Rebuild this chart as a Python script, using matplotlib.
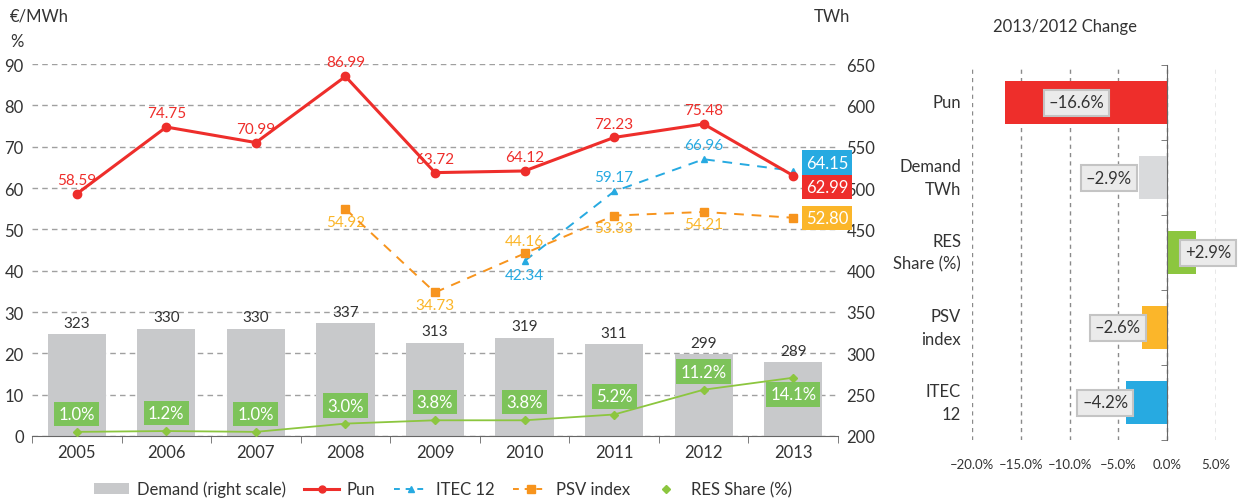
import matplotlib
matplotlib.use("Agg")
import matplotlib.pyplot as plt
from matplotlib.lines import Line2D
from matplotlib.patches import Patch
import matplotlib.transforms as mtrans
import numpy as np

plt.rcParams['font.family'] = ['Lato', 'DejaVu Sans']

years = ['2005', '2006', '2007', '2008', '2009', '2010', '2011', '2012', '2013']
demand = [323, 330, 330, 337, 313, 319, 311, 299, 289]
pun = [58.59, 74.75, 70.99, 86.99, 63.72, 64.12, 72.23, 75.48, 62.99]
itec_years = ['2010', '2011', '2012', '2013']
itec = [42.34, 59.17, 66.96, 64.15]
psv_years = ['2008', '2009', '2010', '2011', '2012', '2013']
psv = [54.92, 34.73, 44.16, 53.33, 54.21, 52.80]
res = [1.0, 1.2, 1.0, 3.0, 3.8, 3.8, 5.2, 11.2, 14.1]

chg_cats = ['Pun', 'Demand\nTWh', 'RES\nShare (%)', 'PSV\nindex', 'ITEC\n12']
chg_vals = [-16.6, -2.9, 2.9, -2.6, -4.2]

C_PUN = '#ee2e2b'
C_ITEC = '#27aae1'
C_PSV = '#f7941d'
C_PSVL = '#fbb62a'
C_RES = '#8cc63f'
C_RESBOX = '#7dc35a'
C_BAR = '#c8c9cb'
C_TXT = '#333333'
FS = 11

fig = plt.figure(figsize=(12.45, 5.02), dpi=100)

# ---------------- main chart ----------------
ax = fig.add_axes([32/1245, 1-437/502, (838-32)/1245, (437-65)/502])
ax2 = ax.twinx()
ax.set_zorder(ax2.get_zorder() + 1)
ax.patch.set_visible(False)

x = np.arange(len(years))
xi = [years.index(y) for y in itec_years]
xp = [years.index(y) for y in psv_years]

ax2.bar(x, demand, width=0.65, color=C_BAR, zorder=2)
ax2.set_ylim(200, 650)
ax2.set_yticks(np.arange(200, 651, 50))
ax2.grid(axis='y', linestyle=(0, (4, 3)), color='#a0a0a0', linewidth=1.0, zorder=0)
ax2.set_axisbelow(True)
for xx, d in zip(x, demand):
    ax2.annotate(f"{d}", (xx, d), xytext=(0, 3), textcoords='offset points',
                 ha='center', va='bottom', fontsize=FS, color=C_TXT)

ax.set_ylim(0, 90)
ax.set_xlim(-0.5, len(years) - 0.5)
ax.set_yticks(np.arange(0, 91, 10))

ax.plot(x, pun, color=C_PUN, lw=2.2, marker='o', ms=6, zorder=5)
ax.plot(xi, itec, color=C_ITEC, lw=1.4, ls=(0, (5, 4)), marker='^', ms=5, zorder=4)
ax.plot(xp, psv, color=C_PSV, lw=1.4, ls=(0, (5, 4)), marker='s', ms=6, zorder=4)
ax.plot(x, res, color=C_RES, lw=1.3, marker='D', ms=4, zorder=4)

# Pun labels
for i, v in enumerate(pun[:-1]):
    ax.annotate(f"{v:.2f}", (i, v), xytext=(0, 5), textcoords='offset points',
                ha='center', va='bottom', fontsize=FS, color=C_PUN)
# ITEC labels
itec_off = [(-1, 'top'), (1, 'bottom'), (1, 'bottom')]
for (xx, v), (s, va) in zip(zip(xi[:-1], itec[:-1]), itec_off):
    ax.annotate(f"{v:.2f}", (xx, v), xytext=(0, 5*s), textcoords='offset points',
                ha='center', va=va, fontsize=FS, color=C_ITEC)
# PSV labels
psv_off = [(-1, 'top'), (-1, 'top'), (1, 'bottom'), (-1, 'top'), (-1, 'top')]
for (xx, v), (s, va) in zip(zip(xp[:-1], psv[:-1]), psv_off):
    ax.annotate(f"{v:.2f}", (xx, v), xytext=(0, 4*s), textcoords='offset points',
                ha='center', va=va, fontsize=FS, color=C_PSVL)

# end boxes
def endbox(v, dy, fc):
    ax.annotate(f"{v:.2f}", (8, v), xytext=(9, dy), textcoords='offset points',
                ha='left', va='center', fontsize=FS + 1, color='white',
                bbox=dict(boxstyle='square,pad=0.25', fc=fc, ec='none'), zorder=6)

endbox(itec[-1], 6, C_ITEC)
endbox(pun[-1], -8, C_PUN)
endbox(psv[-1], 0, C_PSVL)

# RES boxes
for i, v in enumerate(res):
    dy = -12 if i == len(res) - 1 else 13
    ax.annotate(f"{v:.1f}%", (i, v), xytext=(0, dy), textcoords='offset points',
                ha='center', va='center', fontsize=FS + 1, color='white',
                bbox=dict(boxstyle='square,pad=0.25', fc=C_RESBOX, ec='none'), zorder=6)

ax.set_xticks(x)
ax.set_xticklabels(years)
ax.set_xticks(np.arange(-0.5, len(years)), minor=True)
ax.tick_params(axis='x', which='major', length=0, labelsize=FS + 1, colors=C_TXT, pad=6)
ax.tick_params(axis='x', which='minor', length=5, color='#666666')
ax.tick_params(axis='y', length=0, labelsize=FS + 1, colors=C_TXT, pad=6)
ax2.tick_params(axis='y', length=0, labelsize=FS + 1, colors=C_TXT, pad=6)
for a in (ax, ax2):
    for s in ('top', 'left', 'right'):
        a.spines[s].set_visible(False)
ax.spines['bottom'].set_color('#666666')
ax2.spines['bottom'].set_visible(False)

fig.text(10/1245, 1-17/502, "€/MWh", fontsize=FS + 1, color=C_TXT, va='center', ha='left')
fig.text(10/1245, 1-42/502, "%", fontsize=FS + 1, color=C_TXT, va='center', ha='left')
fig.text(850/1245, 1-17/502, "TWh", fontsize=FS + 1, color=C_TXT, va='center', ha='right')

# legend
handles = [
    Patch(facecolor=C_BAR, edgecolor='none'),
    Line2D([], [], color=C_PUN, lw=2.2, marker='o', ms=5),
    Line2D([], [], color=C_ITEC, lw=1.4, ls=(0, (3, 3)), marker='^', ms=5),
    Line2D([], [], color=C_PSV, lw=1.4, ls=(0, (3, 3)), marker='s', ms=6),
    Line2D([], [], color=C_RES, lw=0, marker='D', ms=4),
]
labels = ['Demand (right scale)', 'Pun', 'ITEC 12', 'PSV index', 'RES Share (%)']
leg = fig.legend(handles, labels, loc='center', bbox_to_anchor=(443/1245, 1-490/502),
                 ncol=5, frameon=False, fontsize=FS + 1, handlelength=2.1,
                 handleheight=0.6, columnspacing=1.1, handletextpad=0.45)
for t in leg.get_texts():
    t.set_color(C_TXT)

# ---------------- change panel ----------------
axc = fig.add_axes([972/1245, 1-441/502, (1216-972)/1245, (441-66)/502])
yc = np.arange(len(chg_cats))
cols = [C_PUN, '#d9dadc', C_RES, C_PSVL, C_ITEC]
axc.barh(yc, chg_vals, height=0.57, color=cols, zorder=2)
axc.set_xlim(-20, 5)
axc.set_ylim(len(chg_cats) - 0.5, -0.5)
axc.set_xticks(np.arange(-20, 6, 5))
axc.xaxis.set_major_formatter(matplotlib.ticker.FuncFormatter(lambda v, p: f"{v:.1f}%".replace('-', '\u2013')))
axc.grid(axis='x', linestyle=(0, (3, 3)), color='#8a8a8a', linewidth=1.0, zorder=0)
axc.set_axisbelow(True)
for s in ('top', 'right', 'bottom'):
    axc.spines[s].set_visible(False)
axc.spines['left'].set_position(('data', 0))
axc.spines['left'].set_color('#666666')
axc.spines['left'].set_zorder(3)
axc.set_yticks([])
axc.set_yticks(np.arange(-0.5, len(chg_cats)), minor=True)
axc.tick_params(axis='y', which='minor', length=4, color='#666666', direction='out')
axc.tick_params(axis='x', length=0, labelsize=9.5, colors=C_TXT, pad=13)

tr = mtrans.blended_transform_factory(axc.transAxes, axc.transData)
for i, c in enumerate(chg_cats):
    axc.text(-0.045, i, c, transform=tr, ha='right', va='center', fontsize=FS + 1,
             color=C_TXT, linespacing=1.5)

bbox_c = dict(boxstyle='square,pad=0.3', fc='#ebebeb', ec='#c4c4c4', lw=1.5)
def lbl(v):
    return (f"+{v:.1f}%" if v > 0 else f"{v:.1f}%").replace('-', '\u2013')
axc.text(-9.3, 0, lbl(chg_vals[0]), ha='center', va='center', fontsize=FS + 1, color=C_TXT, bbox=bbox_c, zorder=5)
axc.text(chg_vals[1] - 0.7, 1, lbl(chg_vals[1]), ha='right', va='center', fontsize=FS + 1, color=C_TXT, bbox=bbox_c, zorder=5)
axc.text(1.8, 2, lbl(chg_vals[2]), ha='left', va='center', fontsize=FS + 1, color=C_TXT, bbox=bbox_c, zorder=5)
axc.text(chg_vals[3] - 0.1, 3, lbl(chg_vals[3]), ha='right', va='center', fontsize=FS + 1, color=C_TXT, bbox=bbox_c, zorder=5)
axc.text(chg_vals[4] + 0.2, 4, lbl(chg_vals[4]), ha='right', va='center', fontsize=FS + 1, color=C_TXT, bbox=bbox_c, zorder=5)

fig.text(1065/1245, 1-27/502, "2013/2012 Change", ha='center', va='center', fontsize=FS + 1, color=C_TXT)

fig.savefig("out.png", dpi=100)
